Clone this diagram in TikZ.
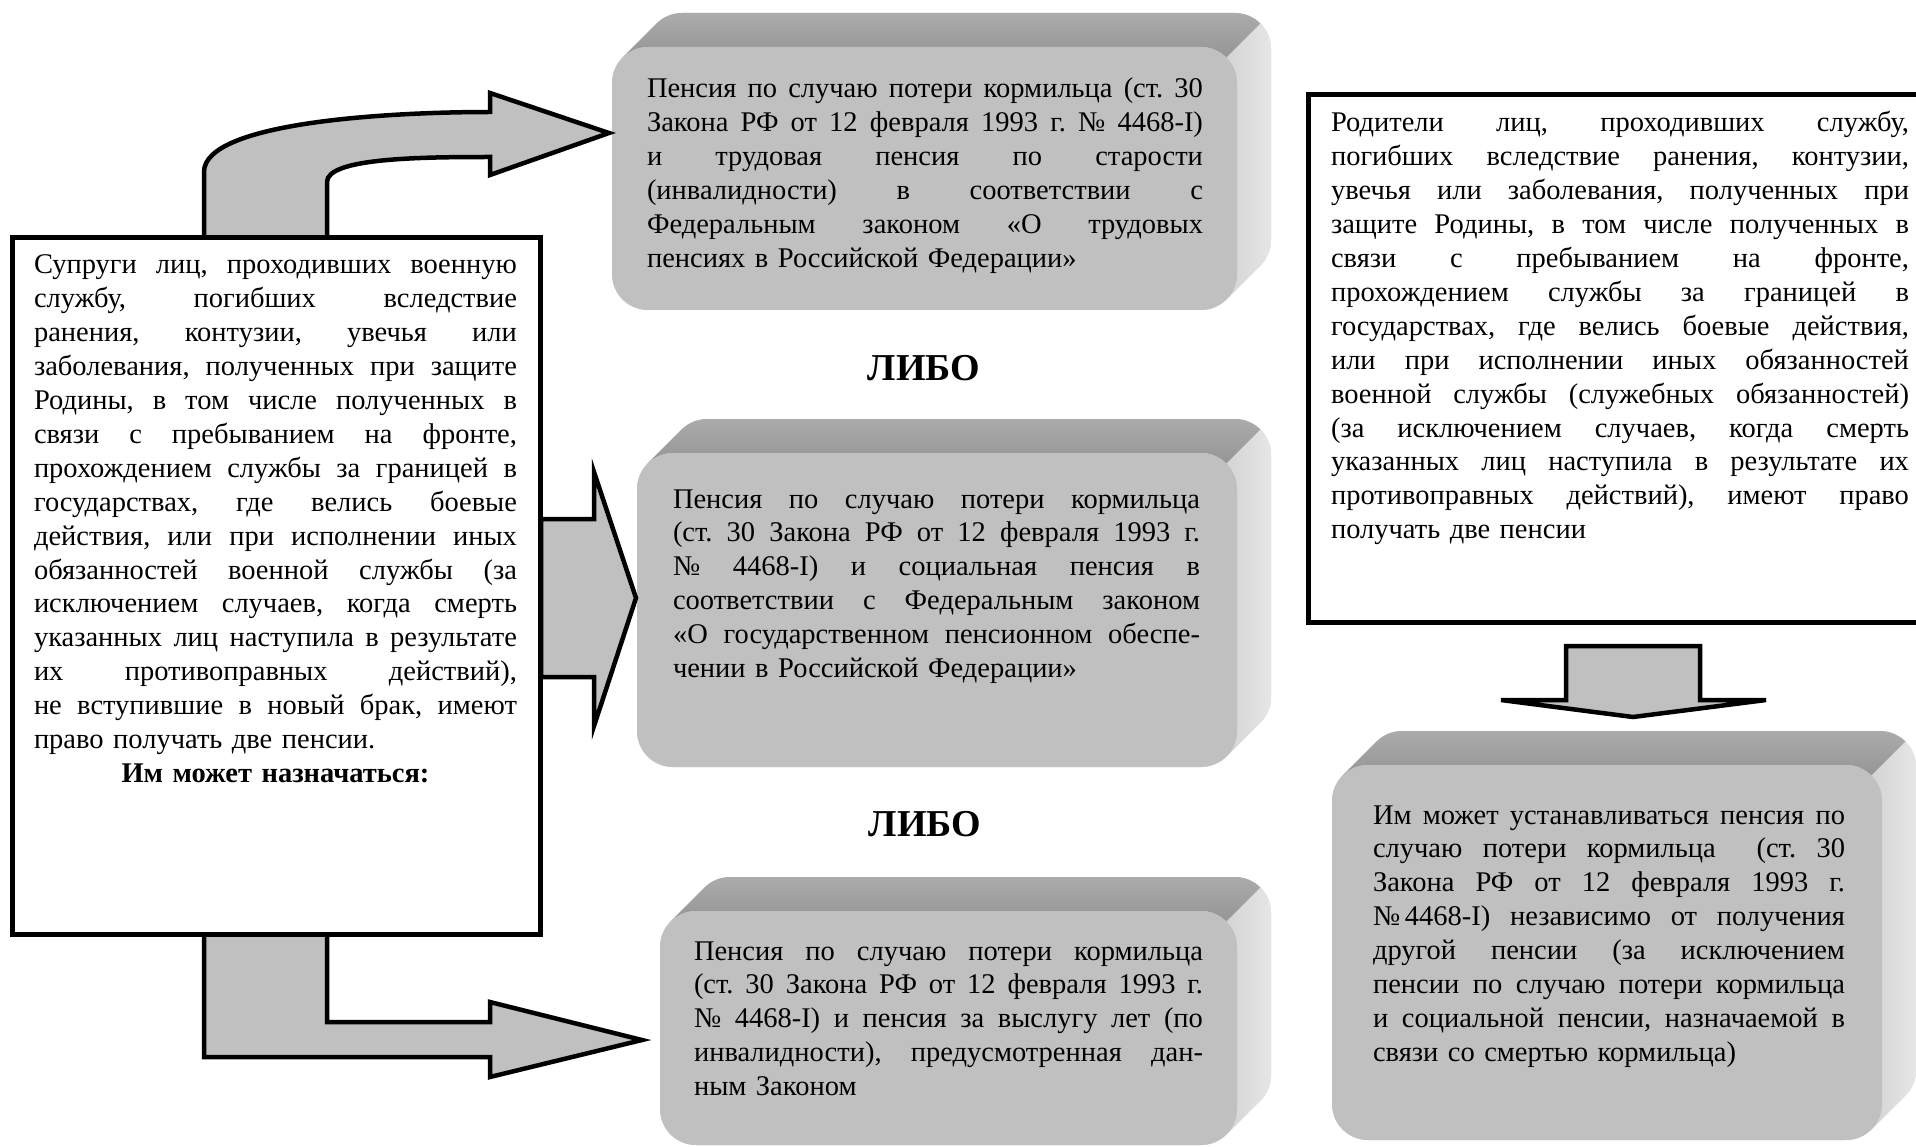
\documentclass[tikz,border=0pt]{standalone}
\usepackage{fontspec}
\setmainfont{Liberation Serif}
\definecolor{facecol}{HTML}{C0C0C0}
\definecolor{topA}{HTML}{ABABAB}
\definecolor{topB}{HTML}{959595}
\definecolor{sideA}{HTML}{D4D4D4}
\definecolor{sideB}{HTML}{E6E6E6}
\definecolor{arrowcol}{HTML}{C0C0C0}
\newlength\jw
\newcommand\bodyfont{\fontsize{28.5pt}{33.9pt}\selectfont\frenchspacing}
\newcommand\jl[1]{\hbox to \jw{\spaceskip=.25em plus 1fil minus .05em\relax #1}}
\newcommand\lastln[1]{\hbox{#1}}
\newcommand\bvR{36}
\newcommand\bvA{34}
% name, x1, y1, x2, y2 (image coordinates, y downwards)
\newcommand\bevelbox[5]{%
  \fill[sideA] ({#2+\bvR-\bvR*0.7071},{#3+\bvR-\bvR*0.7071}) -- ++(\bvA,-\bvA)
    arc[start angle=225,end angle=270,radius=\bvR] -- ({#4+\bvA-\bvR},{#3-\bvA})
    arc[start angle=270,end angle=360,radius=\bvR] -- ({#4+\bvA},{#5-\bvA-\bvR})
    arc[start angle=0,end angle=45,radius=\bvR] -- ++(-\bvA,\bvA)
    arc[start angle=45,end angle=90,radius=\bvR] -- ({#2+\bvR},{#5})
    arc[start angle=90,end angle=180,radius=\bvR] -- ({#2},{#3+\bvR})
    arc[start angle=180,end angle=225,radius=\bvR] -- cycle;
  \shade[top color=topA,bottom color=topB] ({#2+\bvR-\bvR*0.7071},{#3+\bvR-\bvR*0.7071}) -- ++(\bvA,-\bvA)
    arc[start angle=225,end angle=270,radius=\bvR] -- ({#4+\bvA-\bvR},{#3-\bvA})
    arc[start angle=270,end angle=315,radius=\bvR] -- ++(-\bvA,\bvA)
    arc[start angle=315,end angle=270,radius=\bvR] -- ({#2+\bvR},{#3})
    arc[start angle=270,end angle=225,radius=\bvR] -- cycle;
  \shade[left color=sideA,right color=sideB] ({#4-\bvR+\bvR*0.7071},{#3+\bvR-\bvR*0.7071}) -- ++(\bvA,-\bvA)
    arc[start angle=315,end angle=360,radius=\bvR] -- ({#4+\bvA},{#5-\bvA-\bvR})
    arc[start angle=0,end angle=45,radius=\bvR] -- ++(-\bvA,\bvA)
    arc[start angle=45,end angle=0,radius=\bvR] -- ({#4},{#3+\bvR})
    arc[start angle=0,end angle=-45,radius=\bvR] -- cycle;
  \fill[facecol,rounded corners=36pt] (#2,#3) rectangle (#4,#5);
  \coordinate (#1) at ({(#2+#4)/2},{(#3+#5)/2});
}
\tikzset{
  blockarrow/.style={fill=arrowcol,draw=black,line width=4.5pt,line join=miter},
  framebox/.style={draw=black,fill=white,line width=5pt,anchor=north west,inner sep=0pt,outer sep=0pt},
  txt/.style={anchor=base west,inner sep=0pt,outer sep=0pt,font=\bodyfont},
  libo/.style={anchor=base,inner sep=0pt,font=\fontsize{38pt}{40pt}\selectfont\bfseries}
}
\begin{document}
\begin{tikzpicture}[x=1pt,y=-1pt]
\useasboundingbox (0,0) rectangle (1916,1147);
\fill[white] (0,0) rectangle (1916,1147);
\clip (0,0) rectangle (1916,1147);

% 3D boxes
\bevelbox{b1}{612}{47}{1237}{310}
\bevelbox{b2}{637}{453}{1237}{767}
\bevelbox{b3}{660}{911}{1237}{1145}
\bevelbox{b4}{1332}{765}{1882}{1140}

% block arrows
\draw[blockarrow] (204,238) -- (204,172) .. controls (204,122) and (390,112) .. (490,112)
  -- (490,93) -- (609,133) -- (490,175) -- (490,157)
  .. controls (420,157) and (327,158) .. (327,182) -- (327,238) -- cycle;
\draw[blockarrow] (541,519) -- (594,519) -- (594,472) -- (636,598) -- (594,726) -- (594,677) -- (541,677) -- cycle;
\draw[blockarrow] (204,934) -- (204,1057) -- (490,1057) -- (490,1077) -- (642,1040) -- (490,1002) -- (490,1022) -- (327,1022) -- (327,934) -- cycle;

% framed boxes
\node[framebox,minimum width=528pt,minimum height=696pt] (lbox) at (12,238) {};
\node[framebox,minimum width=640pt,minimum height=527pt] (rbox) at (1308,95) {};

% down arrow
\draw[blockarrow] (1566,646) -- (1700,646) -- (1700,700) -- (1766,700) -- (1633,717) -- (1501,700) -- (1566,700) -- cycle;

% texts
\node[txt,text width=483pt] (tl) at (34,274) {\setlength{\jw}{483pt}%
\jl{Супруги лиц, проходивших военную}
\jl{службу, погибших вследствие}
\jl{ранения, контузии, увечья или}
\jl{заболевания, полученных при защите}
\jl{Родины, в том числе полученных в}
\jl{связи с пребыванием на фронте,}
\jl{прохождением службы за границей в}
\jl{государствах, где велись боевые}
\jl{действия, или при исполнении иных}
\jl{обязанностей военной службы (за}
\jl{исключением случаев, когда смерть}
\jl{указанных лиц наступила в результате}
\jl{их противоправных действий),}
\jl{не вступившие в новый брак, имеют}
\lastln{право получать две пенсии.}
\hbox to \jw{\hfil\bfseries Им может назначаться:\hfil}};

\node[txt,text width=556pt] (t1) at (647,98) {\setlength{\jw}{556pt}%
\jl{Пенсия по случаю потери кормильца (ст. 30}
\jl{Закона РФ от 12 февраля 1993 г. № 4468-I)}
\jl{и трудовая пенсия по старости}
\jl{(инвалидности) в соответствии с}
\jl{Федеральным законом «О трудовых}
\lastln{пенсиях в Российской Федерации»}};

\node[txt,text width=527pt] (t2) at (673,508) {\setlength{\jw}{527pt}%
\jl{Пенсия по случаю потери кормильца}
\jl{(ст. 30 Закона РФ от 12 февраля 1993 г.}
\jl{№ 4468-I) и социальная пенсия в}
\jl{соответствии с Федеральным законом}
\jl{«О государственном пенсионном обеспе-}
\lastln{чении в Российской Федерации»}};

\node[txt,text width=509pt] (t3) at (694,960) {\setlength{\jw}{509pt}%
\jl{Пенсия по случаю потери кормильца}
\jl{(ст. 30 Закона РФ от 12 февраля 1993 г.}
\jl{№ 4468-I) и пенсия за выслугу лет (по}
\jl{инвалидности), предусмотренная дан-}
\lastln{ным Законом}};

\node[txt,text width=472pt] (t4) at (1373,824) {\setlength{\jw}{472pt}%
\jl{Им может устанавливаться пенсия по}
\jl{случаю потери кормильца\ \ (ст. 30}
\jl{Закона РФ от 12 февраля 1993 г.}
\jl{№\,4468-I) независимо от получения}
\jl{другой пенсии (за исключением}
\jl{пенсии по случаю потери кормильца}
\jl{и социальной пенсии, назначаемой в}
\lastln{связи со смертью кормильца)}};

\node[txt,text width=578pt] (tr) at (1331,132) {\setlength{\jw}{578pt}%
\jl{Родители лиц, проходивших службу,}
\jl{погибших вследствие ранения, контузии,}
\jl{увечья или заболевания, полученных при}
\jl{защите Родины, в том числе полученных в}
\jl{связи с пребыванием на фронте,}
\jl{прохождением службы за границей в}
\jl{государствах, где велись боевые действия,}
\jl{или при исполнении иных обязанностей}
\jl{военной службы (служебных обязанностей)}
\jl{(за исключением случаев, когда смерть}
\jl{указанных лиц наступила в результате их}
\jl{противоправных действий), имеют право}
\lastln{получать две пенсии}};

\node[libo] (libo1) at (924,380) {ЛИБО};
\node[libo] (libo2) at (925,836) {ЛИБО};
\end{tikzpicture}
\end{document}
